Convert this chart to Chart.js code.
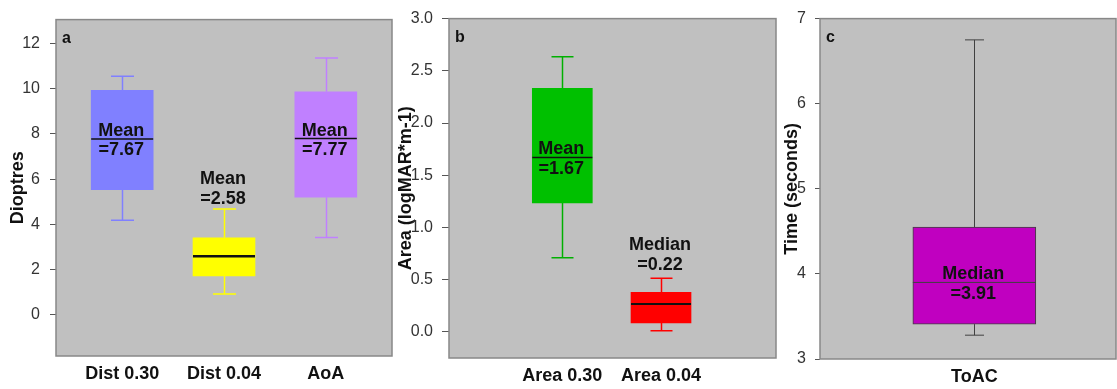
<!DOCTYPE html>
<html><head><meta charset="utf-8">
<script src="https://cdn.jsdelivr.net/npm/chart.js@4.4.1/dist/chart.umd.min.js"></script>
<style>
html,body{margin:0;padding:0;background:#fff;overflow:hidden;}
#wrap{position:relative;width:1117px;height:389px;}
canvas{position:absolute;top:0;}
</style></head><body>
<div id="wrap">
<canvas id="ca" width="393" height="389" style="left:0px"></canvas>
<canvas id="cb" width="384" height="389" style="left:393px"></canvas>
<canvas id="cc" width="340" height="389" style="left:777px"></canvas>
</div>
<script>
// ---------- Panel a ----------
const catsA = ['Dist 0.30', 'Dist 0.04', 'AoA'];
const lowA = [4.18, 0.91, 3.41];
const q1A = [5.53, 1.71, 5.20];
const medA = [7.78, 2.58, 7.80];
const q3A = [9.93, 3.40, 9.87];
const highA = [10.56, 4.68, 11.37];
const noteTopA = ['Mean', 'Mean', 'Mean'];
const noteBotA = ['=7.67', '=2.58', '=7.77'];
const noteAtA = [7.78, 5.64, 7.80];
const ticksA = [0, 2, 4, 6, 8, 10, 12];
const tickLabelsA = ['0', '2', '4', '6', '8', '10', '12'];

// ---------- Panel b ----------
const catsB = ['Area 0.30', 'Area 0.04'];
const lowB = [0.71, 0.01];
const q1B = [1.235, 0.086];
const medB = [1.67, 0.267];
const q3B = [2.333, 0.378];
const highB = [2.635, 0.514];
const noteTopB = ['Mean', 'Median'];
const noteBotB = ['=1.67', '=0.22'];
const noteAtB = [1.67, 0.754];
const ticksB = [0, 0.5, 1.0, 1.5, 2.0, 2.5, 3.0];
const tickLabelsB = ['0.0', '0.5', '1.0', '1.5', '2.0', '2.5', '3.0'];

// ---------- Panel c ----------
const catsC = ['ToAC'];
const lowC = [3.28];
const q1C = [3.41];
const medC = [3.90];
const q3C = [4.55];
const highC = [6.75];
const noteTopC = ['Median'];
const noteBotC = ['=3.91'];
const noteAtC = [3.90];
const ticksC = [3, 4, 5, 6, 7];
const tickLabelsC = ['3', '4', '5', '6', '7'];

const FONT = "'Liberation Sans', Arial, sans-serif";

function makePanel(id, p) {
  const n = p.cats.length;
  const extras = {
    id: 'boxExtras',
    beforeDraw(chart) {
      const a = chart.chartArea, ctx = chart.ctx;
      ctx.save();
      ctx.fillStyle = '#C0C0C0';
      ctx.fillRect(a.left, a.top, a.right - a.left, a.bottom - a.top);
      ctx.restore();
    },
    beforeDatasetsDraw(chart) {
      const ctx = chart.ctx, xs = chart.scales.x, ys = chart.scales.y;
      ctx.save();
      ctx.lineWidth = p.whiskerWidth;
      for (let i = 0; i < n; i++) {
        const x = Math.round(xs.getPixelForValue(i + 1)) + 0.5;
        ctx.strokeStyle = p.whiskerColors[i];
        const yH = ys.getPixelForValue(p.high[i]), y3 = ys.getPixelForValue(p.q3[i]);
        const yL = ys.getPixelForValue(p.low[i]), y1 = ys.getPixelForValue(p.q1[i]);
        ctx.beginPath();
        ctx.moveTo(x, y3); ctx.lineTo(x, yH);
        ctx.moveTo(x - p.cap / 2, yH); ctx.lineTo(x + p.cap / 2, yH);
        ctx.moveTo(x, y1); ctx.lineTo(x, yL);
        ctx.moveTo(x - p.cap / 2, yL); ctx.lineTo(x + p.cap / 2, yL);
        ctx.stroke();
      }
      ctx.restore();
    },
    afterDatasetsDraw(chart) {
      const ctx = chart.ctx, xs = chart.scales.x, ys = chart.scales.y, a = chart.chartArea;
      const meta = chart.getDatasetMeta(0);
      ctx.save();
      // medians
      for (let i = 0; i < n; i++) {
        const bar = meta.data[i];
        const y = ys.getPixelForValue(p.med[i]);
        ctx.strokeStyle = p.medianColor;
        ctx.lineWidth = p.medianWidths[i];
        ctx.beginPath();
        ctx.moveTo(bar.x - bar.width / 2, y);
        ctx.lineTo(bar.x + bar.width / 2, y);
        ctx.stroke();
      }
      // frame
      ctx.strokeStyle = '#888888';
      ctx.lineWidth = 1.5;
      ctx.strokeRect(a.left, a.top, a.right - a.left, a.bottom - a.top);
      // panel letter
      ctx.fillStyle = '#111';
      ctx.font = 'bold 16px ' + FONT;
      ctx.textAlign = 'left';
      ctx.textBaseline = 'alphabetic';
      ctx.fillText(p.letter, a.left + 6, a.top + 23);
      // notes
      ctx.font = 'bold 18px ' + FONT;
      ctx.textAlign = 'center';
      for (let i = 0; i < n; i++) {
        const x = xs.getPixelForValue(i + 1) - 1;
        const y = ys.getPixelForValue(p.noteAt[i]);
        ctx.fillText(p.noteTop[i], x, y - 3);
        ctx.fillText(p.noteBot[i], x, y + 16.5);
      }
      ctx.restore();
    }
  };

  return new Chart(document.getElementById(id), {
    type: 'bar',
    data: {
      datasets: [{
        data: p.cats.map((c, i) => ({ x: i + 1, y: [p.q1[i], p.q3[i]] })),
        backgroundColor: p.colors,
        borderColor: p.borderColor,
        borderWidth: p.borderWidth,
        borderSkipped: false,
        barThickness: p.barThickness,
        grouped: false
      }]
    },
    options: {
      responsive: false,
      animation: false,
      events: [],
      layout: { padding: { top: p.padTop, right: 1, left: 0, bottom: 0 } },
      plugins: { legend: { display: false }, tooltip: { enabled: false } },
      scales: {
        x: {
          type: 'linear',
          offset: false,
          min: p.xMin, max: p.xMax,
          afterBuildTicks(scale) { scale.ticks = p.cats.map((c, i) => ({ value: i + 1 })); },
          afterFit(scale) { scale.height = p.xAxisHeight; },
          ticks: {
            autoSkip: false, maxRotation: 0, minRotation: 0,
            padding: 7,
            color: '#111',
            font: { family: FONT, size: 18, weight: 'bold' },
            callback: (v) => p.cats[Math.round(v) - 1]
          },
          grid: { display: false, drawTicks: false },
          border: { display: false }
        },
        y: {
          type: 'linear',
          min: p.yMin, max: p.yMax,
          afterBuildTicks(scale) { scale.ticks = p.ticks.map(v => ({ value: v })); },
          afterFit(scale) { scale.width = p.yAxisWidth; },
          ticks: {
            autoSkip: false,
            padding: p.tickPad,
            color: '#333',
            font: { family: FONT, size: 16 },
            callback: (v, i) => p.tickLabels[i]
          },
          grid: { display: true, drawOnChartArea: false, drawTicks: true, tickLength: p.tickLen, color: '#555', lineWidth: 1 },
          border: { display: false },
          title: {
            display: true, text: p.yTitle, color: '#111',
            font: { family: FONT, size: 18, weight: 'bold' },
            padding: { top: p.titlePad, bottom: 0 }
          }
        }
      }
    },
    plugins: [extras]
  });
}

makePanel('ca', {
  cats: catsA, low: lowA, q1: q1A, med: medA, q3: q3A, high: highA,
  noteTop: noteTopA, noteBot: noteBotA, noteAt: noteAtA,
  ticks: ticksA, tickLabels: tickLabelsA,
  colors: ['#8080FF', '#FFFF00', '#C080FF'], whiskerColors: ['#8080FF', '#FFFF00', '#C080FF'],
  borderColor: 'rgba(0,0,0,0)', borderWidth: 0,
  medianColor: '#111', medianWidths: [1.5, 2.5, 1.5],
  whiskerWidth: 1.5, cap: 23, barThickness: 62,
  xMin: 0.35, xMax: 3.65, yMin: -1.84, yMax: 13.07,
  padTop: 18, xAxisHeight: 33, yAxisWidth: 56, tickPad: 10, tickLen: 6, titlePad: 7,
  yTitle: 'Dioptres', letter: 'a'
});

makePanel('cb', {
  cats: catsB, low: lowB, q1: q1B, med: medB, q3: q3B, high: highB,
  noteTop: noteTopB, noteBot: noteBotB, noteAt: noteAtB,
  ticks: ticksB, tickLabels: tickLabelsB,
  colors: ['#00C000', '#FF0000'], whiskerColors: ['#00B000', '#FF0000'],
  borderColor: 'rgba(0,0,0,0)', borderWidth: 0,
  medianColor: '#111', medianWidths: [1.5, 2],
  whiskerWidth: 1.5, cap: 22, barThickness: 60,
  xMin: -0.148, xMax: 3.165, yMin: -0.25, yMax: 3.0,
  padTop: 17, xAxisHeight: 31, yAxisWidth: 56, tickPad: 9, tickLen: 7, titlePad: 2,
  yTitle: 'Area (logMAR*m-1)', letter: 'b'
});

makePanel('cc', {
  cats: catsC, low: lowC, q1: q1C, med: medC, q3: q3C, high: highC,
  noteTop: noteTopC, noteBot: noteBotC, noteAt: noteAtC,
  ticks: ticksC, tickLabels: tickLabelsC,
  colors: ['#C000C0'], whiskerColors: ['#404040'],
  borderColor: '#404040', borderWidth: 1,
  medianColor: '#404040', medianWidths: [1],
  whiskerWidth: 1, cap: 19, barThickness: 123,
  xMin: 0, xMax: 1.918, yMin: 3, yMax: 7,
  padTop: 17, xAxisHeight: 30, yAxisWidth: 43, tickPad: 9, tickLen: 5, titlePad: 4,
  yTitle: 'Time (seconds)', letter: 'c'
});
</script>
</body></html>
